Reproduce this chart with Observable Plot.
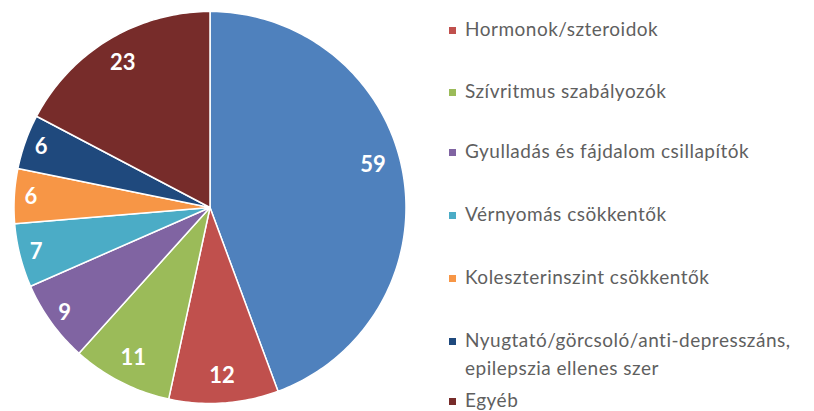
<!DOCTYPE html>
<html><head><meta charset="utf-8">
<script src="https://cdn.jsdelivr.net/npm/d3@7"></script>
<script src="https://cdn.jsdelivr.net/npm/@observablehq/plot@0.6"></script>
<style>
body{margin:0;background:#fff;}
#wrap{position:relative;width:814px;height:411px;overflow:hidden;}
#chart{position:absolute;left:0;top:0;}
.item{position:absolute;left:449px;font-family:Lato,sans-serif;font-size:19px;letter-spacing:0.5px;color:#5f5f5f;line-height:28px;white-space:nowrap;}
.sw{display:inline-block;width:7px;height:7px;margin-right:9px;vertical-align:middle;position:relative;top:-1px;}
</style></head>
<body><div id="wrap"><div id="chart"></div></div>
<script>
const categories = ["Egyéb (kék)", "Hormonok/szteroidok", "Szívritmus szabályozók", "Gyulladás és fájdalom csillapítók", "Vérnyomás csökkentők", "Koleszterinszint csökkentők", "Nyugtató/görcsoló/anti-depresszáns,\nepilepszia ellenes szer", "Egyéb"];
const values = [59, 12, 11, 9, 7, 6, 6, 23];
const colors = ["#4F81BD", "#C0504D", "#9BBB59", "#8064A2", "#4BACC6", "#F79646", "#1F497D", "#772C2A"];
const legendCategories = categories.slice(1);

const cx = 209.5, cy = 207, R = 196;
const pie = d3.pie().sort(null).value(d => d.value)(categories.map((c, i) => ({cat: c, value: values[i]})));

const pts = [];
const labels = [];
pie.forEach(s => {
  const n = Math.max(2, Math.ceil((s.endAngle - s.startAngle) / (Math.PI / 180)));
  pts.push({cat: s.data.cat, x: 0, y: 0});
  for (let k = 0; k <= n; k++) {
    const a = s.startAngle + (s.endAngle - s.startAngle) * k / n;
    pts.push({cat: s.data.cat, x: Math.sin(a), y: Math.cos(a)});
  }
  const span = s.endAngle - s.startAngle;
  const mid = (s.startAngle + s.endAngle) / 2 - (span > 2 ? 0.08 : 0);
  const r = span < 0.45 ? 0.915 : 0.86;
  labels.push({cat: s.data.cat, x: r * Math.sin(mid), y: r * Math.cos(mid), text: String(s.data.value)});
});

const plot = Plot.plot({
  width: 420, height: 411, margin: 0,
  x: {domain: [-1, 1], range: [cx - R, cx + R], axis: null},
  y: {domain: [-1, 1], range: [cy + R, cy - R], axis: null},
  color: {domain: categories, range: colors},
  marks: [
    Plot.line(pts, {x: "x", y: "y", z: "cat", fill: "cat", stroke: "white", strokeWidth: 1.5, curve: "linear-closed", strokeLinejoin: "round"}),
    Plot.text(labels, {x: "x", y: "y", text: "text", fill: "white", fontWeight: "bold", fontSize: 22, fontFamily: "Lato"})
  ]
});
document.getElementById("chart").appendChild(plot);

const tops = [15, 77, 137, 200, 263, 326, 386];
const wrap = document.getElementById("wrap");
legendCategories.forEach((c, i) => {
  const div = document.createElement("div");
  div.className = "item";
  div.style.top = tops[i] + "px";
  const lines = c.split("\n");
  const sw = document.createElement("span");
  sw.className = "sw";
  sw.style.background = colors[i + 1];
  div.appendChild(sw);
  div.appendChild(document.createTextNode(lines[0]));
  for (let j = 1; j < lines.length; j++) {
    div.appendChild(document.createElement("br"));
    const sp = document.createElement("span");
    sp.style.paddingLeft = "16px";
    sp.textContent = lines[j];
    div.appendChild(sp);
  }
  wrap.appendChild(div);
});
</script></body></html>
